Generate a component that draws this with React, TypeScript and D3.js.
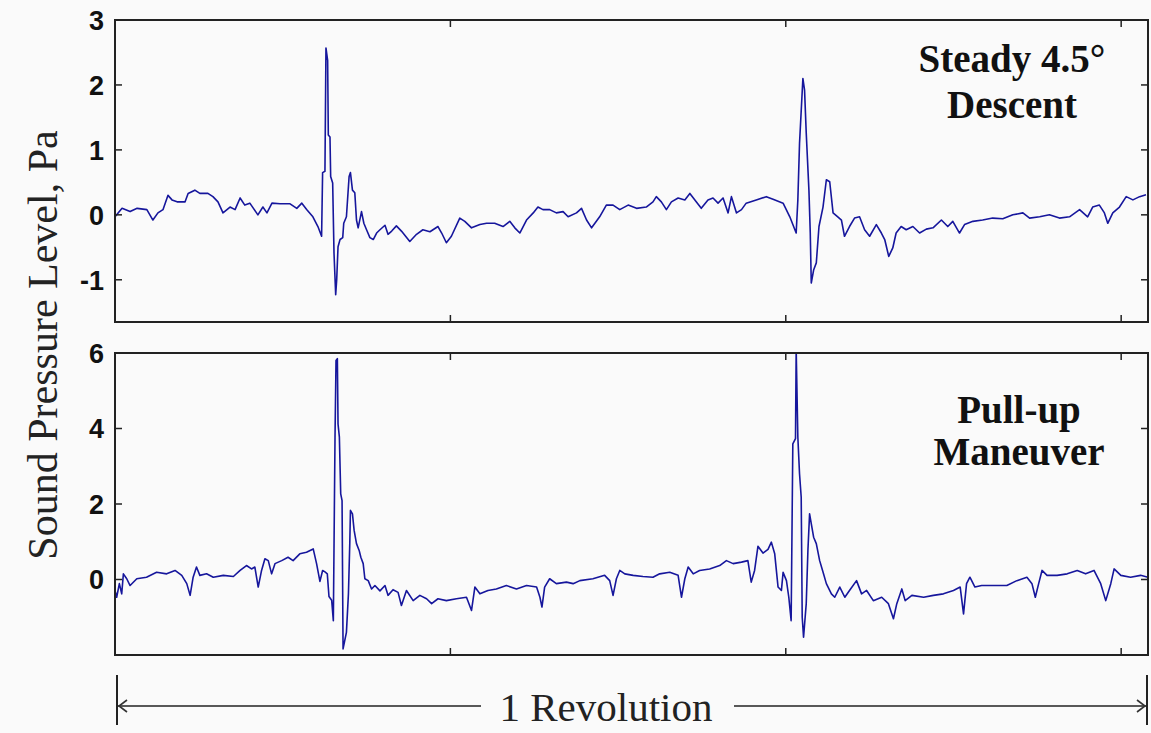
import * as d3 from "d3";

const W = 1151;
const H = 733;
const BOX = { left: 115, right: 1148 };

// time along one revolution (arbitrary units), sound pressure in Pa
const xTicks = [100, 200, 300];
const descentTicks = [-1, 0, 1, 2, 3];
const pullUpTicks = [0, 2, 4, 6];

const descentSeries: [number, number][] = [
  [0.0, -0.03], [2.1, 0.1], [4.5, 0.05], [6.6, 0.1], [9.5, 0.08], [11.3, -0.08], [12.8, 0.03],
  [14.3, 0.08], [15.8, 0.3], [17.0, 0.23], [18.5, 0.2], [20.9, 0.2], [21.8, 0.33], [23.8, 0.38],
  [25.3, 0.33], [27.7, 0.33], [29.2, 0.28], [30.7, 0.2], [32.2, 0.03], [34.3, 0.12], [35.8, 0.08],
  [37.3, 0.26], [38.7, 0.15], [40.2, 0.18], [42.6, 0.0], [44.1, 0.12], [45.3, 0.03], [46.8, 0.18],
  [49.2, 0.17], [52.2, 0.17], [54.2, 0.1], [55.7, 0.18], [57.2, 0.08], [59.0, -0.03], [60.5, -0.18],
  [61.6, -0.33], [61.9, 0.65], [62.6, 0.67], [62.9, 2.57], [63.4, 2.38], [63.6, 1.23], [64.1, 1.2],
  [64.3, 0.59], [64.9, 0.49], [65.3, -0.59], [65.8, -1.23], [66.1, -1.0], [66.5, -0.49], [67.1, -0.38],
  [67.9, -0.35], [68.2, -0.13], [69.0, -0.03], [69.8, 0.59], [70.2, 0.65], [70.8, 0.38], [71.5, 0.34],
  [72.0, -0.08], [72.5, -0.2], [73.5, 0.05], [74.2, -0.13], [75.0, -0.23], [76.0, -0.35], [77.0, -0.38],
  [78.0, -0.28], [79.0, -0.23], [80.5, -0.16], [81.4, -0.3], [82.5, -0.25], [83.9, -0.17], [85.4, -0.25],
  [87.9, -0.41], [89.9, -0.3], [91.8, -0.23], [93.9, -0.26], [96.3, -0.18], [97.4, -0.28], [98.8, -0.43],
  [100.3, -0.33], [102.8, -0.05], [104.3, -0.1], [106.3, -0.2], [108.8, -0.15], [110.8, -0.13],
  [113.2, -0.13], [115.7, -0.18], [117.7, -0.1], [119.2, -0.2], [120.7, -0.28], [122.7, -0.08],
  [124.7, 0.03], [126.1, 0.12], [127.6, 0.08], [129.6, 0.08], [131.6, 0.03], [133.6, 0.05],
  [135.1, -0.03], [137.6, 0.03], [139.1, 0.1], [140.6, -0.08], [142.1, -0.2], [144.5, -0.03],
  [146.5, 0.15], [148.5, 0.15], [150.5, 0.08], [153.0, 0.15], [155.5, 0.1], [158.4, 0.12], [160.4, 0.2],
  [161.4, 0.28], [162.9, 0.2], [164.4, 0.08], [165.9, 0.2], [167.9, 0.26], [169.9, 0.23], [171.4, 0.33],
  [173.3, 0.2], [174.8, 0.1], [176.8, 0.23], [178.3, 0.26], [179.8, 0.18], [181.3, 0.26], [182.8, 0.03],
  [183.8, 0.28], [185.3, 0.03], [186.8, 0.08], [188.2, 0.18], [191.2, 0.23], [194.2, 0.28], [196.2, 0.24],
  [199.2, 0.18], [201.2, -0.03], [203.1, -0.28], [203.6, 0.23], [204.1, 1.1], [205.1, 2.1], [205.6, 1.92],
  [206.1, 1.26], [206.9, 0.38], [207.3, -0.28], [207.6, -1.05], [208.3, -0.85], [209.1, -0.74],
  [209.9, -0.18], [211.1, 0.12], [212.1, 0.54], [213.1, 0.51], [214.1, 0.03], [215.5, -0.03],
  [216.6, -0.08], [217.5, -0.33], [219.0, -0.18], [220.5, -0.05], [222.0, -0.03], [223.5, -0.23],
  [225.0, -0.33], [227.0, -0.15], [228.5, -0.28], [229.5, -0.38], [230.7, -0.64], [231.9, -0.51],
  [232.9, -0.28], [234.4, -0.18], [235.9, -0.23], [237.9, -0.18], [239.9, -0.28], [241.9, -0.22],
  [243.9, -0.2], [246.4, -0.08], [248.3, -0.18], [249.8, -0.1], [251.8, -0.28], [253.3, -0.15],
  [255.8, -0.1], [258.7, -0.08], [261.7, -0.05], [264.7, -0.06], [267.7, 0.0], [270.7, 0.03],
  [272.7, -0.05], [275.7, -0.03], [278.6, 0.0], [281.6, -0.05], [284.6, -0.03], [287.6, 0.08],
  [290.0, -0.03], [291.5, 0.12], [293.5, 0.15], [295.0, 0.03], [296.0, -0.13], [297.5, 0.03],
  [299.5, 0.12], [301.5, 0.28], [303.5, 0.23], [305.5, 0.28], [307.4, 0.31],
];

const pullUpSeries: [number, number][] = [
  [0.0, -0.29], [0.5, -0.47], [1.3, -0.11], [2.0, -0.38], [2.5, 0.15], [3.5, 0.02], [4.5, -0.16],
  [6.5, 0.02], [9.4, 0.06], [12.4, 0.19], [15.4, 0.15], [17.9, 0.24], [19.9, 0.11], [21.4, -0.11],
  [22.4, -0.42], [23.3, 0.06], [24.3, 0.33], [25.3, 0.11], [27.3, 0.15], [29.3, 0.06], [32.3, 0.11],
  [35.3, 0.08], [37.3, 0.24], [39.2, 0.37], [40.7, 0.28], [41.7, 0.33], [42.7, -0.2], [43.7, 0.24],
  [44.7, 0.55], [45.7, 0.5], [46.7, 0.15], [47.7, 0.42], [49.7, 0.5], [51.6, 0.59], [53.1, 0.5],
  [55.1, 0.68], [57.1, 0.72], [59.1, 0.81], [60.1, 0.42], [61.1, -0.05], [61.9, 0.24], [62.6, 0.2],
  [63.3, 0.15], [63.8, -0.45], [64.6, -0.55], [65.1, -1.09], [65.6, 3.77], [65.9, 5.8], [66.3, 5.85],
  [66.5, 4.12], [66.9, 3.77], [67.3, 2.27], [67.7, 2.09], [68.0, -1.84], [68.5, -1.62], [69.0, -1.4],
  [69.6, -0.38], [70.0, 0.95], [70.2, 1.83], [70.8, 1.74], [71.3, 1.3], [72.0, 0.95], [72.8, 0.77],
  [73.3, 0.59], [74.0, 0.42], [74.5, 0.02], [75.5, -0.03], [76.5, -0.25], [77.5, -0.16], [79.0, -0.3],
  [80.5, -0.16], [81.4, -0.42], [82.9, -0.27], [84.4, -0.34], [85.4, -0.69], [86.9, -0.29],
  [88.9, -0.56], [90.9, -0.42], [92.9, -0.51], [94.4, -0.64], [96.3, -0.51], [98.8, -0.56],
  [101.8, -0.51], [104.8, -0.47], [106.3, -0.82], [107.3, -0.2], [108.8, -0.38], [111.2, -0.29],
  [113.7, -0.25], [116.7, -0.16], [119.7, -0.25], [122.7, -0.16], [125.7, -0.2], [126.7, -0.47],
  [127.3, -0.73], [128.1, -0.2], [129.6, 0.02], [131.6, -0.11], [134.6, -0.07], [136.6, -0.11],
  [138.6, -0.03], [142.5, 0.02], [146.0, 0.11], [147.5, -0.03], [148.5, -0.42], [149.5, 0.02],
  [150.5, 0.24], [152.0, 0.15], [154.5, 0.11], [157.4, 0.08], [160.4, 0.06], [162.4, 0.15],
  [165.4, 0.19], [167.9, 0.11], [168.9, -0.47], [169.9, 0.02], [170.9, 0.33], [172.4, 0.15],
  [174.3, 0.24], [177.3, 0.28], [180.3, 0.37], [182.3, 0.5], [184.3, 0.42], [186.8, 0.46], [188.7, 0.5],
  [189.7, -0.07], [190.7, 0.24], [191.7, 0.88], [193.2, 0.7], [194.7, 0.8], [195.7, 0.99], [196.7, 0.68],
  [197.7, -0.2], [198.7, -0.29], [199.2, 0.19], [200.2, -0.03], [200.9, -0.47], [201.6, -1.09],
  [202.1, 3.59], [202.9, 3.73], [203.1, 6.1], [203.6, 3.77], [204.1, 2.8], [204.6, 2.18], [204.9, -1.0],
  [205.3, -1.53], [206.1, -0.64], [206.6, 0.77], [207.1, 1.74], [207.6, 1.48], [208.3, 1.12],
  [209.1, 0.95], [210.1, 0.5], [211.1, 0.2], [212.1, -0.11], [213.6, -0.38], [214.6, -0.47],
  [216.1, -0.2], [217.6, -0.47], [219.0, -0.29], [221.1, -0.03], [222.6, -0.38], [224.1, -0.29],
  [226.1, -0.56], [228.6, -0.47], [230.6, -0.64], [232.1, -1.04], [233.1, -0.64], [234.6, -0.25],
  [235.6, -0.56], [237.6, -0.42], [241.1, -0.47], [244.0, -0.42], [247.0, -0.38], [250.0, -0.29],
  [252.0, -0.2], [253.0, -0.91], [253.9, -0.11], [254.9, 0.06], [256.4, -0.2], [258.4, -0.16],
  [261.9, -0.16], [265.9, -0.16], [268.9, -0.03], [271.9, 0.06], [273.4, -0.11], [274.4, -0.47],
  [275.4, -0.11], [276.4, 0.24], [277.9, 0.11], [280.9, 0.11], [283.9, 0.15], [286.9, 0.24],
  [289.4, 0.15], [291.9, 0.24], [293.9, -0.11], [295.4, -0.56], [296.9, -0.11], [297.9, 0.28],
  [299.9, 0.11], [302.8, 0.06], [305.8, 0.11], [308.0, 0.06],
];

const x = d3.scaleLinear().domain([0, 308]).range([BOX.left, BOX.right]);

type PanelProps = {
  id: string;
  series: [number, number][];
  domain: [number, number];
  top: number;
  bottom: number;
  ticks: number[];
  note: string[];
  noteX: number;
  noteY: number;
  noteGap: number;
};

function Panel({ id, series, domain, top, bottom, ticks, note, noteX, noteY, noteGap }: PanelProps) {
  const y = d3.scaleLinear().domain(domain).range([bottom, top]);
  const line = d3.line<[number, number]>().x((d) => x(d[0])).y((d) => y(d[1]));
  const tk = 7;
  return (
    <g>
      <defs>
        <clipPath id={id}>
          <rect x={BOX.left} y={top} width={BOX.right - BOX.left} height={bottom - top} />
        </clipPath>
      </defs>
      <path d={line(series) ?? ""} fill="none" stroke="#16169c" strokeWidth={1.6}
        strokeLinejoin="round" clipPath={`url(#${id})`} />
      {/* y ticks, both sides, inward */}
      {ticks.map((t) => (
        <g key={t}>
          <line x1={BOX.left} x2={BOX.left + tk} y1={y(t)} y2={y(t)} stroke="#222" strokeWidth={1.5} />
          <line x1={BOX.right} x2={BOX.right - tk} y1={y(t)} y2={y(t)} stroke="#222" strokeWidth={1.5} />
          <text x={104} y={y(t)} dy="0.36em" textAnchor="end" fontFamily="Liberation Sans, Arial, sans-serif"
            fontWeight="bold" fontSize={27} fill="#111">{t}</text>
        </g>
      ))}
      {xTicks.map((t) => (
        <g key={t}>
          <line x1={x(t)} x2={x(t)} y1={bottom} y2={bottom - tk} stroke="#222" strokeWidth={1.5} />
          <line x1={x(t)} x2={x(t)} y1={top} y2={top + tk} stroke="#222" strokeWidth={1.5} />
        </g>
      ))}
      <rect x={BOX.left} y={top} width={BOX.right - BOX.left} height={bottom - top}
        fill="none" stroke="#222" strokeWidth={2} />
      {note.map((s, i) => (
        <text key={s} x={noteX} y={noteY + i * noteGap} textAnchor="middle"
          fontFamily="Liberation Serif, Times New Roman, serif" fontWeight="bold" fontSize={39} fill="#111">
          {s}
        </text>
      ))}
    </g>
  );
}

export default function App() {
  const arrowY = 706;
  return (
    <svg width={W} height={H} style={{ position: "absolute", left: 0, top: 0 }}>
      <rect width={W} height={H} fill="#fafafa" />
      <Panel id="clipTop" series={descentSeries} domain={[-1.65, 3]} top={20} bottom={322}
        ticks={descentTicks} note={["Steady 4.5\u00b0", "Descent"]} noteX={1012} noteY={72} noteGap={46} />
      <Panel id="clipBottom" series={pullUpSeries} domain={[-2, 6]} top={353} bottom={655}
        ticks={pullUpTicks} note={["Pull-up", "Maneuver"]} noteX={1019} noteY={423} noteGap={42} />

      <text transform="translate(57,345) rotate(-90)" textAnchor="middle"
        fontFamily="Liberation Serif, Times New Roman, serif" fontSize={42} fill="#222">
        Sound Pressure Level, Pa
      </text>

      {/* 1 revolution span */}
      <line x1={117} x2={117} y1={675} y2={725} stroke="#222" strokeWidth={2} />
      <line x1={1147} x2={1147} y1={675} y2={725} stroke="#222" strokeWidth={2} />
      <line x1={118} x2={481} y1={arrowY} y2={arrowY} stroke="#222" strokeWidth={1.6} />
      <line x1={734} x2={1146} y1={arrowY} y2={arrowY} stroke="#222" strokeWidth={1.6} />
      <path d={`M127,${arrowY - 6} L119,${arrowY} L127,${arrowY + 6}`} fill="none" stroke="#333" strokeWidth={1.6} />
      <path d={`M1137,${arrowY - 6} L1145,${arrowY} L1137,${arrowY + 6}`} fill="none" stroke="#333" strokeWidth={1.6} />
      <text x={606} y={721} textAnchor="middle" fontFamily="Liberation Serif, Times New Roman, serif"
        fontSize={41} fill="#222">1 Revolution</text>
    </svg>
  );
}
